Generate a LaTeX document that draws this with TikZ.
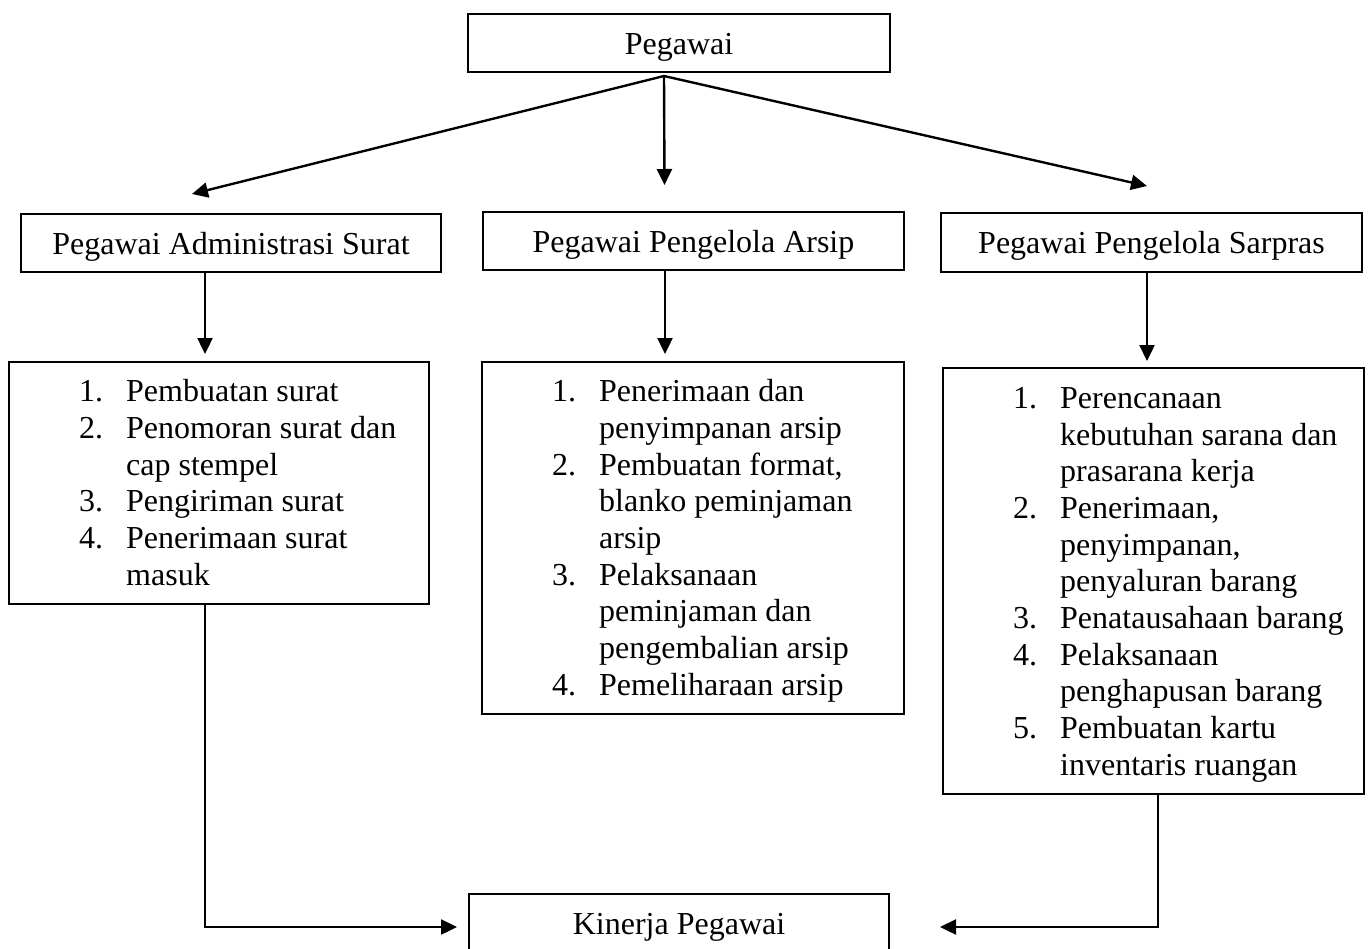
\documentclass[tikz,border=0pt]{standalone}
\usepackage{fontspec}
\setmainfont{Liberation Serif}
\usetikzlibrary{arrows.meta}
\newcommand{\itm}[1]{\makebox[47pt][l]{#1}}
\newcommand{\ind}{\hspace*{47pt}}
\begin{document}
\begin{tikzpicture}[x=1pt,y=-1pt,
  every node/.style={font=\fontsize{32}{36.7}\selectfont},
  hbox/.style={draw,line width=2pt,inner sep=0pt,text height=24pt,text depth=2pt},
  lbox/.style={draw,line width=2pt,inner sep=0pt},
  ltext/.style={inner sep=0pt,anchor=base west},
  arr/.style={line width=2.4pt,-{Triangle[length=16pt,width=15pt]}}]
\useasboundingbox (0,0) rectangle (1368,948);
\node[hbox,minimum width=422pt,minimum height=58pt] (top) at (679,43) {Pegawai};
\node[hbox,minimum width=420pt,minimum height=58pt] (admin) at (231,243) {Pegawai Administrasi Surat};
\node[hbox,minimum width=421pt,minimum height=58pt] (arsip) at (693.5,241) {Pegawai Pengelola Arsip};
\node[hbox,minimum width=421pt,minimum height=59pt] (sarpras) at (1151.5,242.5) {Pegawai Pengelola Sarpras};
\node[lbox,minimum width=420pt,minimum height=242pt] (list1) at (219,483) {};
\node[lbox,minimum width=422pt,minimum height=352pt] (list2) at (693,538) {};
\node[lbox,minimum width=421pt,minimum height=426pt] (list3) at (1153.5,581) {};
\node[hbox,minimum width=420pt,minimum height=58pt] (kinerja) at (679,923) {Kinerja Pegawai};
\node[ltext] (t1) at (79,401.7) {\parbox[t]{340pt}{\raggedright
\itm{1.}Pembuatan surat\\
\itm{2.}Penomoran surat dan\\
\ind cap stempel\\
\itm{3.}Pengiriman surat\\
\itm{4.}Penerimaan surat\\
\ind masuk}};
\node[ltext] (t2) at (552,401.7) {\parbox[t]{340pt}{\raggedright
\itm{1.}Penerimaan dan\\
\ind penyimpanan arsip\\
\itm{2.}Pembuatan format,\\
\ind blanko peminjaman\\
\ind arsip\\
\itm{3.}Pelaksanaan\\
\ind peminjaman dan\\
\ind pengembalian arsip\\
\itm{4.}Pemeliharaan arsip}};
\node[ltext] (t3) at (1013,408.3) {\parbox[t]{340pt}{\raggedright
\itm{1.}Perencanaan\\
\ind kebutuhan sarana dan\\
\ind prasarana kerja\\
\itm{2.}Penerimaan,\\
\ind penyimpanan,\\
\ind penyaluran barang\\
\itm{3.}Penatausahaan barang\\
\itm{4.}Pelaksanaan\\
\ind penghapusan barang\\
\itm{5.}Pembuatan kartu\\
\ind inventaris ruangan}};
\coordinate (src) at (664,76);
\coordinate (eL) at (192,194);
\coordinate (eM) at (664.5,185);
\coordinate (eR) at (1147,186);
\draw[arr] (src) -- (eL);
\draw[arr] (src) -- (eM);
\draw[arr] (src) -- (eR);
\draw[arr,shorten >=7pt] ([xshift=-26pt]admin.south) -- ([xshift=-26pt]admin.south |- list1.north);
\draw[arr,shorten >=7pt] ([xshift=-28.5pt]arsip.south) -- ([xshift=-28.5pt]arsip.south |- list2.north);
\draw[arr,shorten >=6pt] ([xshift=-4.5pt]sarpras.south) -- ([xshift=-4.5pt]sarpras.south |- list3.north);
\coordinate (kL) at (457,927);
\coordinate (kR) at (940,927);
\draw[arr] ([xshift=-14pt]list1.south) |- (kL);
\draw[arr] ([xshift=4.5pt]list3.south) |- (kR);
\end{tikzpicture}
\end{document}
